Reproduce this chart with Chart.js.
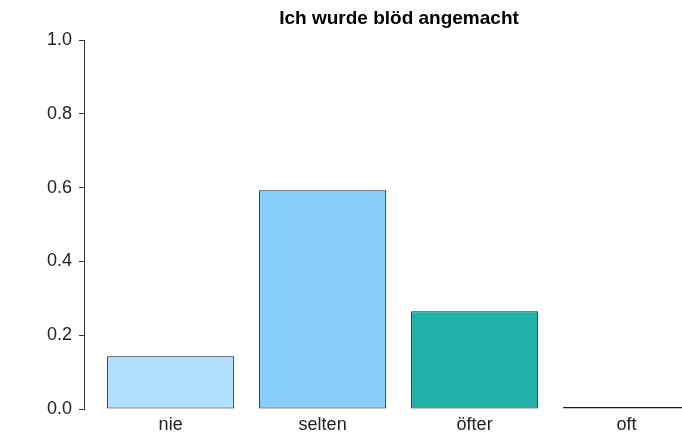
<!DOCTYPE html>
<html>
<head>
<meta charset="utf-8">
<script src="https://cdn.jsdelivr.net/npm/chart.js@4"></script>
<style>
html,body{margin:0;padding:0;overflow:hidden;background:#fff;}
#wrap{width:714px;height:439px;position:relative;}
</style>
</head>
<body>
<div id="wrap"><canvas id="c"></canvas></div>
<script>
const categories = ["nie", "selten", "öfter", "oft"];
const values = [0.143, 0.593, 0.265, 0];
const barColors = ["#B2DFFF", "#87CEFA", "#20B2AA", "#FFFFFF"];
const yTicks = [0, 0.2, 0.4, 0.6, 0.8, 1.0];
const title = "Ich wurde blöd angemacht";

const points = categories.map((c, i) => ({x: i + 1, y: values[i]}));
const font = "'Liberation Sans', Arial, sans-serif";

new Chart(document.getElementById('c'), {
  type: 'bar',
  data: {
    datasets: [{
      data: points,
      backgroundColor: barColors,
      borderColor: '#1a1a1a',
      borderWidth: 1,
      borderSkipped: false,
      minBarLength: 2,
      categoryPercentage: 1,
      barPercentage: 0.836
    }]
  },
  options: {
    responsive: true,
    maintainAspectRatio: false,
    animation: false,
    layout: {padding: {left: 0, right: 0, top: 0, bottom: 0}},
    plugins: {
      legend: {display: false},
      tooltip: {enabled: false},
      title: {
        display: true,
        text: title,
        fullSize: false,
        color: '#000',
        font: {family: font, size: 19, weight: 'bold'},
        padding: {top: 7, bottom: 10.2}
      }
    },
    scales: {
      x: {
        type: 'linear',
        offset: false,
        min: 0.43,
        max: 4.575,
        afterBuildTicks: (s) => { s.ticks = categories.map((c, i) => ({value: i + 1})); },
        afterFit: (s) => { s.height = 30; },
        grid: {display: false, drawTicks: false, offset: false},
        border: {display: false},
        ticks: {
          autoSkip: false,
          maxRotation: 0,
          padding: 5,
          color: '#222',
          font: {family: font, size: 18},
          callback: (v) => Number.isInteger(v) ? categories[v - 1] : ''
        }
      },
      y: {
        min: 0,
        max: 1,
        afterBuildTicks: (s) => { s.ticks = yTicks.map(v => ({value: v})); },
        afterFit: (s) => { s.width = 84; },
        grid: {drawOnChartArea: false, drawTicks: true, tickLength: 5, color: '#333', lineWidth: 1},
        border: {display: true, color: '#333', width: 1},
        ticks: {
          padding: 7,
          color: '#222',
          font: {family: font, size: 18},
          callback: (v) => Number(v).toFixed(1)
        }
      }
    }
  }
});
</script>
</body>
</html>
